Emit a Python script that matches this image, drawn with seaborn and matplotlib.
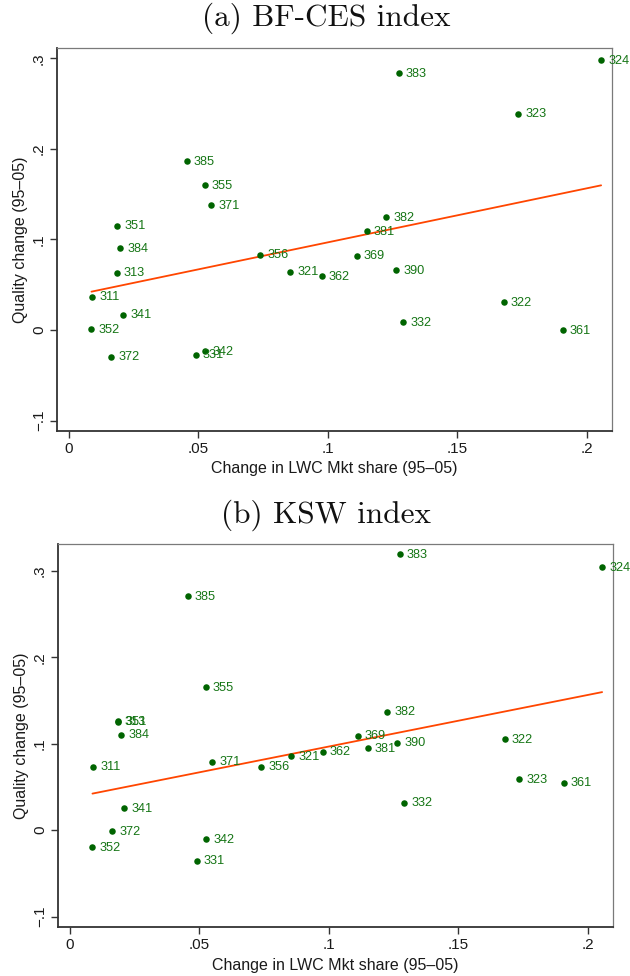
import matplotlib
matplotlib.use("Agg")
import matplotlib.pyplot as plt
import seaborn as sns
import pandas as pd
from matplotlib.ticker import FixedLocator, FixedFormatter

# ---------------- data ----------------
industries = ["311", "313", "321", "322", "323", "324", "331", "332", "341", "342",
              "351", "352", "355", "356", "361", "362", "369", "371", "372", "381",
              "382", "383", "384", "385", "390"]
lwc_share_change = [0.0092, 0.0185, 0.0856, 0.1679, 0.1735, 0.2055, 0.0490, 0.1292, 0.0211, 0.0528,
                    0.0187, 0.0088, 0.0525, 0.0740, 0.1907, 0.0977, 0.1112, 0.0551, 0.0165, 0.1150,
                    0.1226, 0.1274, 0.0200, 0.0455, 0.1264]
quality_bfces = [0.0367, 0.0633, 0.0644, 0.0307, 0.2389, 0.2978, -0.0274, 0.0085, 0.0170, -0.0233,
                 0.1152, 0.0011, 0.1600, 0.0833, -0.0004, 0.0596, 0.0822, 0.1378, -0.0293, 0.1089,
                 0.1248, 0.2833, 0.0900, 0.1867, 0.0663]
quality_ksw = [0.0734, 0.1255, 0.0857, 0.1054, 0.0587, 0.3039, -0.0351, 0.0320, 0.0255, -0.0100,
               0.1262, -0.0197, 0.1656, 0.0734, 0.0548, 0.0907, 0.1093, 0.0792, -0.0015, 0.0950,
               0.1371, 0.3189, 0.1104, 0.2703, 0.1012]

xtick_values = [0, 0.05, 0.1, 0.15, 0.2]
xtick_labels = ["0", ".05", ".1", ".15", ".2"]
ytick_values = [-0.1, 0, 0.1, 0.2, 0.3]
ytick_labels = ["\u2212.1", "0", ".1", ".2", ".3"]

panel_titles = ["(a) BF-CES index", "(b) KSW index"]
x_label = "Change in LWC Mkt share (95\u201305)"
y_label = "Quality change (95\u201305)"

df = pd.DataFrame({"ind": industries, "x": lwc_share_change,
                   "bfces": quality_bfces, "ksw": quality_ksw})

# ---------------- style ----------------
sns.set_theme(style="white")
plt.rcParams["font.family"] = ["Liberation Sans", "DejaVu Sans"]

W, H = 630, 976
fig = plt.figure(figsize=(W / 100, H / 100), dpi=100)

marker_col = "#006400"
label_col = "#157515"
line_col = "#ff4500"

panels = [
    dict(ycol="bfces", rect=(57, 48.3, 612, 430.5), ylim=(-0.111, 0.311), title_y=18),
    dict(ycol="ksw", rect=(58, 544, 613, 927), ylim=(-0.112, 0.331), title_y=515),
]

for p, title in zip(panels, panel_titles):
    l, t, r, b = p["rect"]
    ax = fig.add_axes([l / W, 1 - b / H, (r - l) / W, (b - t) / H])
    # fitted line (Stata lfit; both panels show the BF-CES fit)
    sns.regplot(data=df, x="x", y="bfces", ax=ax, scatter=False, ci=None,
                truncate=True, line_kws=dict(color=line_col, lw=1.3, zorder=2))
    sns.scatterplot(data=df, x="x", y=p["ycol"], ax=ax, s=22, color=marker_col,
                    linewidth=0, zorder=3)
    for _, row in df.iterrows():
        ax.annotate(row["ind"], (row["x"], row[p["ycol"]]), xytext=(5, -0.5),
                    textcoords="offset points", ha="left", va="center",
                    fontsize=9.2, color=label_col, annotation_clip=False, zorder=4)
    ax.set_xlim(-0.0045, 0.2097)
    ax.set_ylim(*p["ylim"])
    ax.xaxis.set_major_locator(FixedLocator(xtick_values))
    ax.xaxis.set_major_formatter(FixedFormatter(xtick_labels))
    ax.yaxis.set_major_locator(FixedLocator(ytick_values))
    ax.yaxis.set_major_formatter(FixedFormatter(ytick_labels))
    ax.tick_params(axis="both", which="major", direction="out", length=5, width=1,
                   color="#333333", labelsize=11, labelcolor="#1a1a1a", pad=3,
                   bottom=True, left=True)
    for lab in ax.get_yticklabels():
        lab.set_rotation(90)
        lab.set_va("center")
    ax.set_xlabel(x_label, fontsize=11.5, color="#1a1a1a", labelpad=4)
    ax.set_ylabel(y_label, fontsize=11.5, color="#1a1a1a", labelpad=3)
    for side in ["left", "bottom"]:
        ax.spines[side].set_color("#333333")
        ax.spines[side].set_linewidth(1.3)
    for side in ["top", "right"]:
        ax.spines[side].set_color("#7a7a7a")
        ax.spines[side].set_linewidth(0.9)
    ax.grid(False)
    ax.set_facecolor("white")
    fig.text(326 / W, 1 - p["title_y"] / H, title, ha="center", va="center",
             fontsize=22.5, family=["cmr10", "DejaVu Serif"], color="#111111")

fig.savefig("out.png", dpi=100, facecolor="white")
